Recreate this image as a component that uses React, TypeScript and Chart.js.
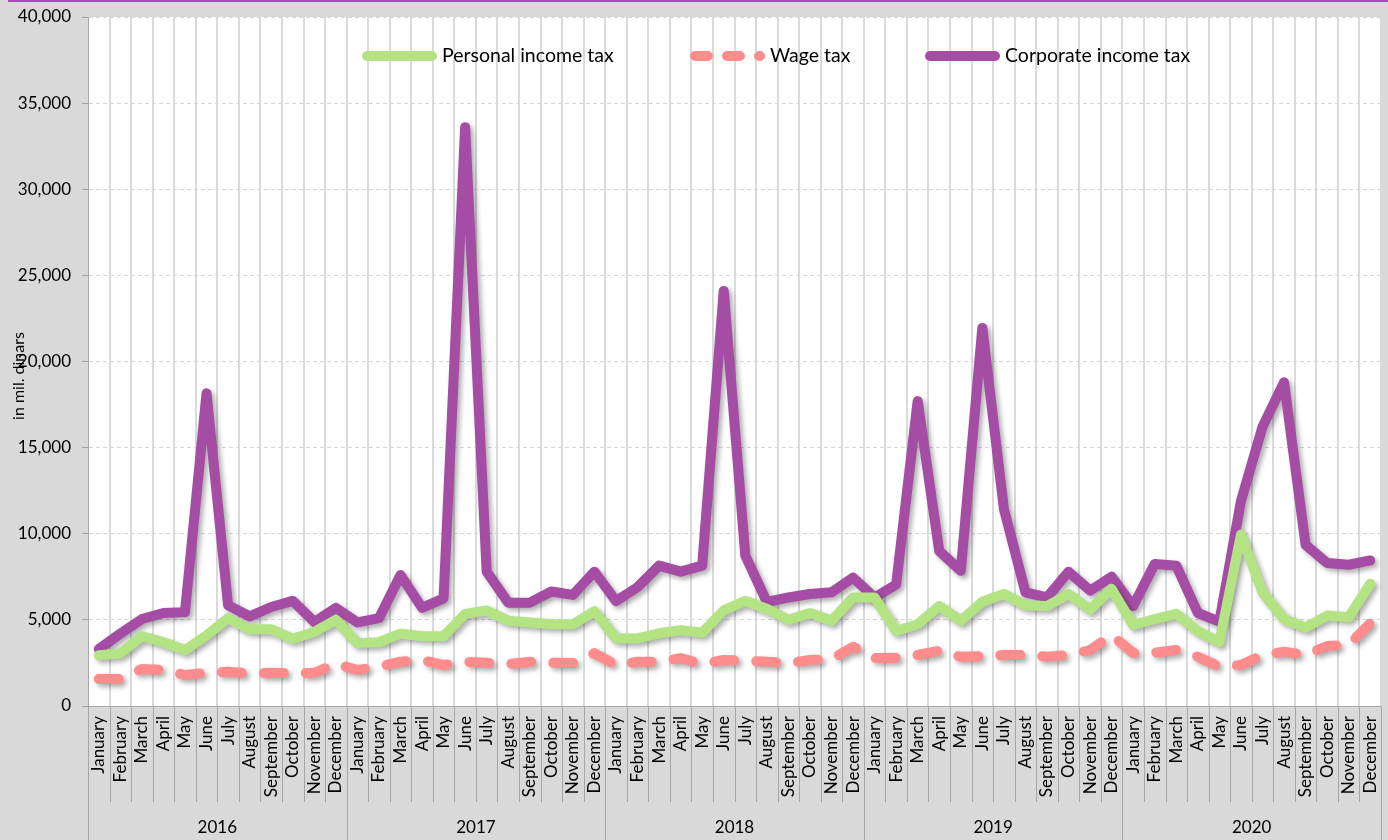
import React, { useEffect, useRef } from 'react';
import { Chart, registerables } from 'chart.js';

Chart.register(...registerables);

const years = ['2016', '2017', '2018', '2019', '2020'];
const monthNames = ['January', 'February', 'March', 'April', 'May', 'June', 'July', 'August', 'September', 'October', 'November', 'December'];

const seriesNames = ['Personal income tax', 'Wage tax', 'Corporate income tax'];

const personalIncomeTax = [
  2950, 3050, 4050, 3700, 3250, 4100, 5100, 4450, 4450, 3900, 4300, 5000,
  3650, 3700, 4200, 4050, 4050, 5350, 5550, 4950, 4850, 4750, 4750, 5500,
  3920, 3920, 4220, 4400, 4250, 5550, 6100, 5650, 5000, 5400, 4950, 6300,
  6300, 4350, 4750, 5800, 4950, 6050, 6500, 5850, 5800, 6500, 5600, 6800,
  4700, 5050, 5350, 4350, 3700, 9950, 6600, 5050, 4550, 5250, 5150, 7100,
];

const wageTax = [
  1570, 1570, 2150, 2100, 1800, 1930, 1990, 1900, 1930, 1900, 1930, 2450,
  2090, 2280, 2570, 2670, 2380, 2570, 2510, 2440, 2570, 2510, 2490, 3070,
  2380, 2570, 2570, 2780, 2440, 2670, 2630, 2570, 2490, 2670, 2710, 3440,
  2780, 2800, 2960, 3210, 2860, 2900, 2960, 2960, 2860, 2960, 3250, 4120,
  3070, 3100, 3250, 2860, 2280, 2380, 2960, 3150, 2960, 3480, 3540, 4820,
];

const corporateIncomeTax = [
  3300, 4200, 5050, 5400, 5450, 18150, 5850, 5200, 5750, 6100, 4880, 5700,
  4850, 5100, 7600, 5700, 6250, 33600, 7800, 6000, 6000, 6650, 6450, 7800,
  6100, 6900, 8150, 7800, 8150, 24100, 8750, 6050, 6300, 6500, 6600, 7450,
  6300, 7050, 17700, 9000, 7850, 21950, 11450, 6600, 6300, 7800, 6700, 7500,
  5800, 8250, 8150, 5400, 4900, 11900, 16200, 18800, 9350, 8300, 8200, 8450,
];

const yMin = 0;
const yMax = 40000;
const yStep = 5000;
const yAxisTitle = 'in mil. dinars';

const FONT = 'Lato, "Open Sans", "DejaVu Sans", sans-serif';
const GREEN = '#b3e383';
const PINK = '#ff8c8c';
const PURPLE = '#a54ca5';

const categories: string[] = [];
years.forEach(() => monthNames.forEach((m) => categories.push(m)));

const legendPos = [362, 690, 925];
const legendY = 56;

const decorPlugin = {
  id: 'decor',
  beforeDraw(chart: any) {
    const { ctx, chartArea: a, width, height } = chart;
    ctx.save();
    ctx.fillStyle = '#d9d9d9';
    ctx.fillRect(0, 0, width, height);
    ctx.fillStyle = '#ffffff';
    ctx.fillRect(a.left, a.top, a.right - a.left, a.bottom - a.top);
    ctx.restore();
  },
  beforeDatasetDraw(chart: any) {
    const ctx = chart.ctx;
    ctx.save();
    ctx.shadowColor = 'rgba(0,0,0,0.32)';
    ctx.shadowBlur = 5;
    ctx.shadowOffsetX = 3;
    ctx.shadowOffsetY = 3;
  },
  afterDatasetDraw(chart: any) {
    chart.ctx.restore();
  },
  afterDraw(chart: any) {
    const { ctx, chartArea: a, width, height } = chart;
    const n = categories.length;
    const step = (a.right - a.left) / n;
    ctx.save();
    ctx.strokeStyle = '#a6a6a6';
    ctx.lineWidth = 1;
    for (let i = 0; i <= n; i++) {
      const x = Math.round(a.left + i * step) + 0.5;
      ctx.beginPath();
      ctx.moveTo(x, a.bottom);
      ctx.lineTo(x, i % 12 === 0 ? height : a.bottom + 96);
      ctx.stroke();
    }
    ctx.fillStyle = '#000';
    ctx.font = `17px ${FONT}`;
    ctx.textAlign = 'center';
    ctx.textBaseline = 'middle';
    years.forEach((y, k) => {
      const cx = a.left + (k * 12 + 6) * step;
      ctx.fillText(y, cx, 828);
    });
    ctx.save();
    ctx.translate(19, 376);
    ctx.rotate(-Math.PI / 2);
    ctx.font = `16px ${FONT}`;
    ctx.fillText(yAxisTitle, 0, 0);
    ctx.restore();
    const colors = [GREEN, PINK, PURPLE];
    const dashes = [[], [13, 19], []];
    seriesNames.forEach((name, i) => {
      const x = legendPos[i];
      ctx.save();
      ctx.strokeStyle = colors[i];
      ctx.lineWidth = 10;
      ctx.lineCap = 'round';
      ctx.setLineDash(dashes[i]);
      ctx.beginPath();
      ctx.moveTo(x + 5, legendY);
      ctx.lineTo(x + 70, legendY);
      ctx.stroke();
      ctx.restore();
      ctx.fillStyle = '#000';
      ctx.font = `19.5px ${FONT}`;
      ctx.textAlign = 'left';
      ctx.textBaseline = 'middle';
      ctx.fillText(name, x + 80, legendY);
    });
    ctx.fillStyle = '#b04ab8';
    ctx.fillRect(8, 0, width - 8, 2);
    ctx.restore();
  },
};

export default function App() {
  const ref = useRef<HTMLCanvasElement>(null);
  useEffect(() => {
    document.body.style.margin = '0';
    const chart = new Chart(ref.current as HTMLCanvasElement, {
      type: 'line',
      data: {
        labels: categories,
        datasets: [
          {
            label: seriesNames[0],
            data: personalIncomeTax,
            borderColor: GREEN,
            backgroundColor: GREEN,
            borderWidth: 10,
            pointRadius: 0,
            pointHoverRadius: 0,
            tension: 0,
            borderCapStyle: 'round',
            borderJoinStyle: 'round',
            fill: false,
          },
          {
            label: seriesNames[1],
            data: wageTax,
            borderColor: PINK,
            backgroundColor: PINK,
            borderWidth: 10,
            borderDash: [20, 22],
            pointRadius: 0,
            pointHoverRadius: 0,
            tension: 0,
            borderCapStyle: 'round',
            borderJoinStyle: 'round',
            fill: false,
          },
          {
            label: seriesNames[2],
            data: corporateIncomeTax,
            borderColor: PURPLE,
            backgroundColor: PURPLE,
            borderWidth: 10,
            pointRadius: 0,
            pointHoverRadius: 0,
            tension: 0,
            borderCapStyle: 'round',
            borderJoinStyle: 'round',
            fill: false,
          },
        ],
      },
      options: {
        responsive: false,
        animation: false,
        devicePixelRatio: 1,
        layout: { padding: { top: 17, right: 7, left: 0, bottom: 0 } },
        plugins: {
          legend: { display: false },
          tooltip: { enabled: false },
        },
        scales: {
          x: {
            type: 'category',
            offset: true,
            grid: { offset: true, color: '#dadada', lineWidth: 2, drawTicks: false },
            border: { display: true, color: '#a6a6a6', width: 1 },
            ticks: {
              autoSkip: false,
              minRotation: 90,
              maxRotation: 90,
              padding: 10,
              color: '#000',
              font: { size: 17, family: FONT },
            },
            afterFit: (s: any) => {
              s.height = 134;
              s.paddingLeft = 0;
              s.paddingRight = 0;
            },
          },
          y: {
            min: yMin,
            max: yMax,
            ticks: {
              stepSize: yStep,
              padding: 11,
              color: '#000',
              font: { size: 17, family: FONT },
              callback: (v: any) => Number(v).toLocaleString('en-US'),
            },
            grid: { color: '#d6d6d6', lineWidth: 1, tickLength: 6, tickColor: '#a6a6a6', drawTicks: true },
            border: { display: true, dash: [4, 3], color: '#a6a6a6', width: 1 },
            afterFit: (s: any) => {
              s.width = 88;
              s.paddingTop = 0;
              s.paddingBottom = 0;
            },
          },
        },
      },
      plugins: [decorPlugin],
    } as any);
    return () => chart.destroy();
  }, []);
  return (
    <div style={{ width: 1388, height: 840 }}>
      <canvas ref={ref} width={1388} height={840} style={{ display: 'block' }} />
    </div>
  );
}
